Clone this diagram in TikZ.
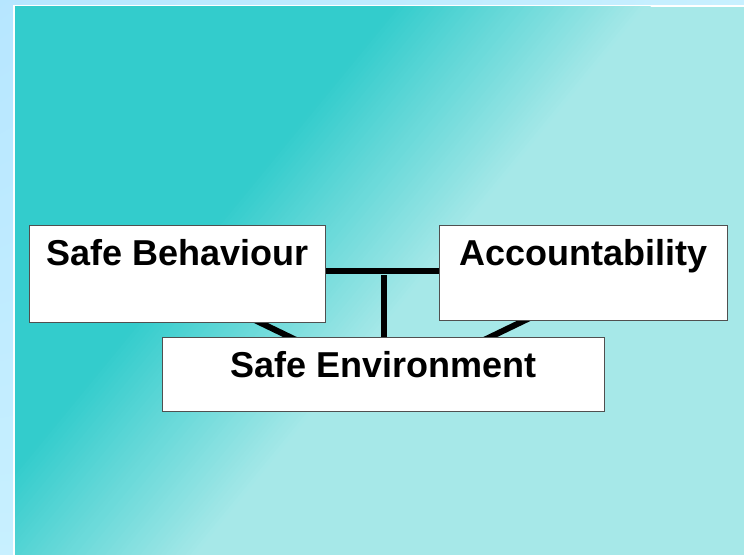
\documentclass[tikz,border=0pt]{standalone}
\usepackage{fontspec}
\setmainfont{Liberation Sans}
\usetikzlibrary{shadings}

\pgfdeclarelayer{back}
\pgfdeclarelayer{links}
\pgfsetlayers{back,links,main}

\definecolor{outerblue}{RGB}{182,230,255}
\definecolor{outerpale}{RGB}{200,240,255}
\definecolor{aqua}{RGB}{51,204,204}
\definecolor{paleaqua}{RGB}{166,232,232}
\definecolor{rim}{RGB}{80,80,80}

\tikzset{
    panel/.style={draw=rim, line width=1.2pt, fill=white, inner sep=0pt,
        text height=40pt, anchor=north west,
        font=\fontsize{36}{43}\selectfont\bfseries},
    link/.style={line width=6pt, black}
}

\begin{document}
\begin{tikzpicture}[x=1pt, y=-1pt]
    \useasboundingbox (0,0) rectangle (744,554);

    % the three boxes
    \node[panel, minimum width=296pt, text depth=57pt] (behaviour) at (29,225) {Safe Behaviour};
    \node[panel, minimum width=288pt, text depth=55pt] (accountability) at (439,225) {Accountability};
    \node[panel, minimum width=442pt, text depth=34pt] (environment) at (162,337) {Safe Environment};

    % connectors, under the boxes
    \coordinate (hub) at (383.5,270.5);
    \begin{pgfonlayer}{links}
        \draw[link] (behaviour |- hub) -- (accountability |- hub);
        \draw[link] ([yshift=-4.5pt]hub) -- (hub |- environment);
        \draw[link] ([xshift=63pt,yshift=10pt]behaviour.south) -- ([xshift=-73pt,yshift=-10pt]environment.north);
        \draw[link] ([xshift=-44pt,yshift=8pt]accountability.south) -- ([xshift=86pt,yshift=-10pt]environment.north);
    \end{pgfonlayer}

    % slide background
    \begin{pgfonlayer}{back}
        \shade[upper left=outerblue, upper right=outerpale, lower left=outerpale, lower right=outerpale]
            (-5,-5) rectangle (750,560);
        \fill[white] (13,4.7) rectangle (750,560);
        \begin{scope}
            \clip (15,6.7) rectangle (750,560);
            \fill[paleaqua] (15,6.7) rectangle (750,560);
            \fill[aqua] (0,0) -- (404,0) -- (0,{404/0.82}) -- cycle;
            \foreach \i in {0,...,50} {
                \pgfmathtruncatemacro{\mix}{100-100*(\i+0.5)/51}
                \fill[aqua!\mix!paleaqua] (400+5*\i,0) -- (406+5*\i,0)
                    -- (0,{(406+5*\i)/0.82}) -- (0,{(400+5*\i)/0.82}) -- cycle;
            }
        \end{scope}
    \end{pgfonlayer}
\end{tikzpicture}
\end{document}
